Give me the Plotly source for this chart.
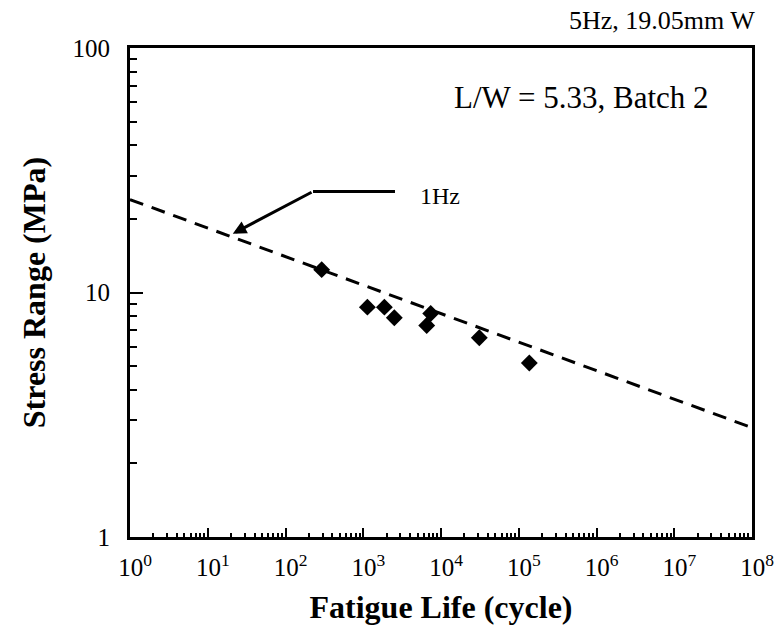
import numpy as np
import plotly.graph_objects as go

# Fatigue test results: cycles to failure vs. applied stress range
life_cycles = [292, 1130, 1870, 2510, 7370, 6550, 31100, 136700]
stress_mpa = [12.4, 8.71, 8.71, 7.88, 8.2, 7.33, 6.53, 5.15]

# Fitted S-N trend line endpoints
fit_life = [1, 1e8]
fit_stress = [24.0, 2.8]

# 1 Hz reference leader: horizontal run then arrow onto the trend line
leader_life = [2560, 226]
leader_stress = [25.9, 25.9]
arrow_tip = (21, 17.4)

x_decades = list(range(0, 9))
x_tickvals = [10 ** d for d in x_decades]
x_ticktext = [f"10<sup>{d}</sup>" for d in x_decades]
x_minor = [m * 10 ** d for d in range(0, 8) for m in range(2, 10)]

y_tickvals = [1, 10, 100]
y_ticktext = ["1", "10", "100"]
y_minor = [m * 10 ** d for d in range(0, 2) for m in range(2, 10)]

FONT = "Liberation Serif, Times New Roman, serif"

fig = go.Figure()

fig.add_trace(go.Scatter(
    x=fit_life, y=fit_stress, mode="lines",
    line=dict(color="black", width=3, dash="14px,9px"),
    showlegend=False, hoverinfo="skip",
))

fig.add_trace(go.Scatter(
    x=life_cycles, y=stress_mpa, mode="markers",
    marker=dict(symbol="diamond", size=13, color="black"),
    showlegend=False,
))

fig.add_trace(go.Scatter(
    x=leader_life, y=leader_stress, mode="lines",
    line=dict(color="black", width=3),
    showlegend=False, hoverinfo="skip",
))

fig.add_annotation(
    x=np.log10(arrow_tip[0]), y=np.log10(arrow_tip[1]),
    ax=np.log10(leader_life[1]), ay=np.log10(leader_stress[1]),
    xref="x", yref="y", axref="x", ayref="y",
    showarrow=True, arrowhead=2, arrowsize=0.9, arrowwidth=3,
    arrowcolor="black", text="", standoff=0,
)

fig.add_annotation(
    x=np.log10(5100), y=np.log10(24.9), xref="x", yref="y",
    text="1Hz", showarrow=False, xanchor="left", yanchor="middle",
    font=dict(family=FONT, size=24, color="black"),
)

fig.add_annotation(
    x=1.0 + (757 - 752) / 622, y=1.0 + (48 - 20) / 489,
    xref="paper", yref="paper",
    text="5Hz, 19.05mm W", showarrow=False,
    xanchor="right", yanchor="middle",
    font=dict(family=FONT, size=26, color="black"),
)

fig.add_annotation(
    x=np.log10(1.4e4), y=np.log10(63), xref="x", yref="y",
    text="L/W = 5.33, Batch 2", showarrow=False, xanchor="left", yanchor="middle",
    font=dict(family=FONT, size=31, color="black"),
)

fig.update_layout(
    width=782, height=625,
    margin=dict(l=130, r=30, t=48, b=88),
    paper_bgcolor="white", plot_bgcolor="white",
    font=dict(family=FONT, color="black"),
)

fig.update_xaxes(
    type="log", range=[0, 8], automargin=False,
    tickvals=x_tickvals, ticktext=x_ticktext,
    ticks="inside", ticklen=9, tickwidth=2, tickcolor="black",
    minor=dict(tickvals=x_minor, ticks="inside", ticklen=4, tickwidth=2, tickcolor="black"),
    showline=True, linewidth=3, linecolor="black", mirror=True,
    showgrid=False, zeroline=False,
    tickfont=dict(family=FONT, size=25, color="black"),
    ticklabelstandoff=6, ticklabelshift=5,
    title=dict(text="<b>Fatigue Life (cycle)</b>", font=dict(family=FONT, size=32, color="black"), standoff=16),
)

fig.update_yaxes(
    type="log", range=[0, 2], automargin=False,
    tickvals=y_tickvals, ticktext=y_ticktext,
    ticks="inside", ticklen=13, tickwidth=2, tickcolor="black",
    minor=dict(tickvals=y_minor, ticks="inside", ticklen=7, tickwidth=2, tickcolor="black"),
    showline=True, linewidth=3, linecolor="black", mirror=True,
    showgrid=False, zeroline=False,
    tickfont=dict(family=FONT, size=25, color="black"),
    ticklabelstandoff=12,
    title=dict(text="<b>Stress Range (MPa)</b>", font=dict(family=FONT, size=32, color="black"), standoff=18),
)

fig.write_html("out.html")
